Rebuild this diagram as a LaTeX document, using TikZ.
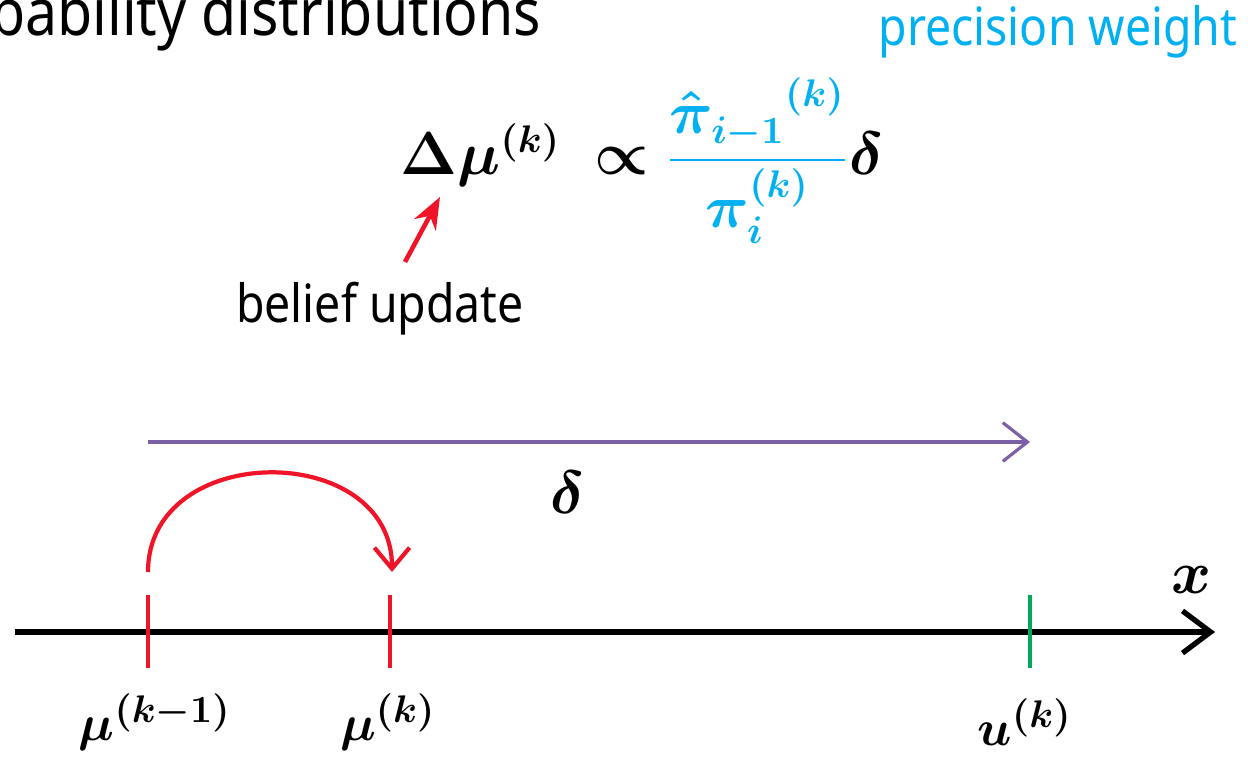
\documentclass[tikz,border=0pt]{standalone}
\usepackage{amsmath,bm}
\usepackage{fontspec}
\setmainfont{Noto Sans}[FakeStretch=0.88]
\usetikzlibrary{arrows.meta}

\definecolor{celeste}{RGB}{0,176,240}
\definecolor{morado}{RGB}{125,95,165}
\definecolor{rojo}{RGB}{240,20,40}
\definecolor{verde}{RGB}{0,170,90}

\tikzset{
	texto/.style={font=\fontsize{15}{18}\selectfont},
	mat/.style={font=\fontsize{16}{19}\selectfont},
	etiq/.style={font=\fontsize{15}{18}\selectfont, inner sep=0pt},
	marca/.style={line width=1.1pt},
}

\begin{document}
\begin{tikzpicture}[x=0.1mm,y=-0.1mm]
\useasboundingbox (0,0) rectangle (1248,759);
\clip (0,0) rectangle (1248,759);

% Titulos
\node[texto, font=\fontsize{18.5}{20}\selectfont, anchor=base east, inner sep=0pt] (tit) at (542,36) {probability distributions};
\node[texto, text=celeste, anchor=base east, inner sep=0pt] (pw) at (1238,46) {precision weight};

% Ecuacion
\node[mat, anchor=base west, inner sep=0pt] (eq) at (400,175)
	{$\bm{\Delta\mu^{(k)}}\;\bm{\propto}\textcolor{celeste}{\dfrac{\bm{{\hat\pi_{i-1}}^{(k)}}}{\bm{\pi_i^{(k)}}}}\bm{\delta}$};
\coordinate (mu) at (440,197);
\node[texto, anchor=base, inner sep=0pt] (bu) at (380,323) {belief update};
\draw[rojo, line width=1.3pt, -{Stealth[length=9pt,width=7pt]}] ([xshift=25*0.1mm, yshift=2mm]bu.north) -- (mu);

% Error de prediccion
\coordinate (d0) at (148,442);
\coordinate (d1) at (1030,442);
\draw[morado, line width=0.9pt, -{Straight Barb[length=7pt,width=11pt]}] (d0) -- (d1);
\node[mat, inner sep=0pt] (del) at (568,492) {$\bm{\delta}$};

% Eje
\coordinate (e0) at (15,632);
\coordinate (e1) at (1215,632);
\draw[line width=1.5pt, -{Straight Barb[length=8pt,width=12pt]}] (e0) -- (e1);
\node[mat, inner sep=0pt] (ex) at (1192,580) {$\bm{x}$};

	\foreach \x in {148, 390}
		\draw[rojo, marca] (\x,595) -- (\x,668);
	\draw[verde, marca] (1030,595) -- (1030,668);

% Salto de la creencia
\coordinate (s0) at (148,572);
\coordinate (s1) at (392,572);
\draw[rojo, line width=1.2pt, -{Straight Barb[length=6pt,width=10pt]}] (s0) .. controls (148,440) and (392,440) .. (s1);

% Etiquetas
\node[etiq] (m0) at (155,722) {$\bm{\mu^{(k-1)}}$};
\node[etiq] (m1) at (388,722) {$\bm{\mu^{(k)}}$};
\node[etiq] (u1) at (1025,722) {$\bm{u^{(k)}}$};
\end{tikzpicture}
\end{document}
